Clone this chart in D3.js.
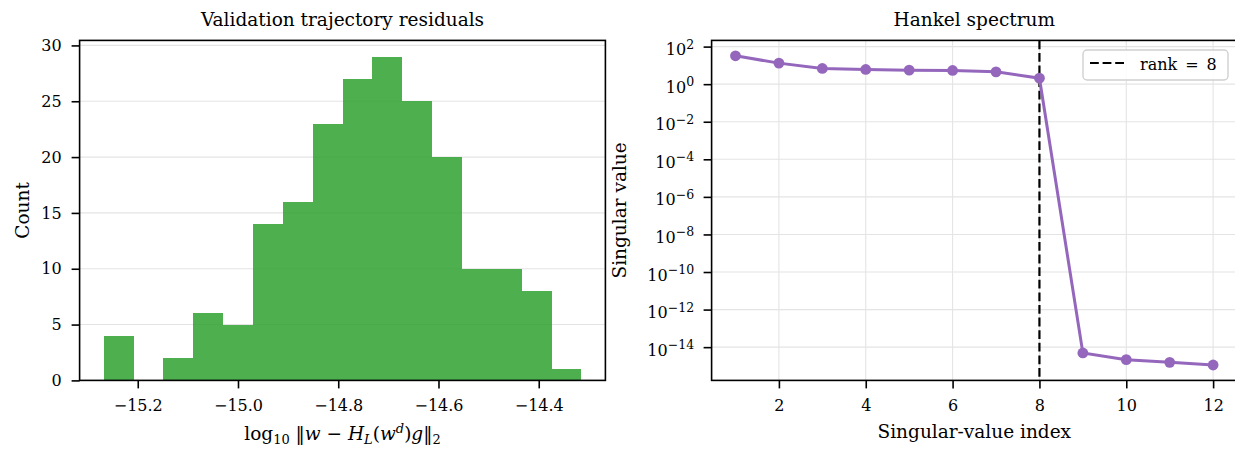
<!DOCTYPE html>
<html>
<head>
<meta charset="utf-8">
<script src="https://cdn.jsdelivr.net/npm/d3@7"></script>
<style>
  body { margin: 0; background: #fff; }
  svg text { font-family: "DejaVu Serif", serif; fill: #000; }
</style>
</head>
<body>
<svg id="chart" width="1235" height="449"></svg>
<script>
// left panel: histogram of log10 residuals
var binEdges = [-15.268, -15.208, -15.149, -15.089, -15.030, -14.970, -14.911, -14.851,
                -14.791, -14.732, -14.672, -14.612, -14.553, -14.493, -14.434, -14.374, -14.315];
var binCounts = [4, 0, 2, 6, 5, 14, 16, 23, 27, 29, 25, 20, 10, 10, 8, 1];
var residualTicks = [-15.2, -15.0, -14.8, -14.6, -14.4];
var countTicks = [0, 5, 10, 15, 20, 25, 30];

// right panel: singular values of the Hankel matrix
var svIndex = [1, 2, 3, 4, 5, 6, 7, 8, 9, 10, 11, 12];
var svValues = [32.4, 13.2, 6.85, 6.06, 5.58, 5.36, 4.55, 2.09, 4.9e-15, 2.15e-15, 1.55e-15, 1.12e-15];
var indexTicks = [2, 4, 6, 8, 10, 12];
var decadeTicks = [2, 0, -2, -4, -6, -8, -10, -12, -14];
var rank = 8;

var svg = d3.select('#chart');
svg.append('rect').attr('width', 1235).attr('height', 449).attr('fill', '#fff');

var TICK = 8, GRID = '#e4e4e4', TICKFONT = 16, fmt = d3.format('.1f');

var styleAxis = function(g) {
  g.select('.domain').remove();
  g.selectAll('.tick line').attr('stroke', '#000').attr('stroke-width', 1.6);
  g.selectAll('.tick text').attr('font-size', TICKFONT).attr('fill', '#000');
};

var frame = function(x0, x1, y0, y1) {
  svg.append('rect')
    .attr('x', x0).attr('y', y0).attr('width', x1 - x0).attr('height', y1 - y0)
    .attr('fill', 'none').attr('stroke', '#000').attr('stroke-width', 1.6);
};

// ---------- histogram ----------
var L = {left: 79.6, right: 605.4, top: 40.4, bottom: 380.4};
var hx = d3.scaleLinear().domain([-15.316, -14.267]).range([L.left, L.right]);
var hy = d3.scaleLinear().domain([0, 30.45]).range([L.bottom, L.top]);

svg.append('g').selectAll('line').data(countTicks).enter().append('line')
  .attr('x1', L.left).attr('x2', L.right)
  .attr('y1', function(d) { return hy(d); }).attr('y2', function(d) { return hy(d); })
  .attr('stroke', GRID).attr('stroke-width', 1.1);

var bins = binCounts.map(function(c, i) { return {x0: binEdges[i], x1: binEdges[i + 1], n: c}; });
svg.append('g').attr('shape-rendering', 'crispEdges')
  .selectAll('rect').data(bins.filter(function(b) { return b.n > 0; })).enter().append('rect')
  .attr('x', function(d) { return hx(d.x0); })
  .attr('width', function(d) { return hx(d.x1) - hx(d.x0); })
  .attr('y', function(d) { return hy(d.n); })
  .attr('height', function(d) { return hy(0) - hy(d.n); })
  .attr('fill', '#2ca02c').attr('fill-opacity', 0.84);

svg.append('g').attr('transform', 'translate(0,' + L.bottom + ')')
  .call(d3.axisBottom(hx).tickValues(residualTicks).tickFormat(fmt).tickSize(TICK).tickPadding(11.5))
  .call(styleAxis);
svg.append('g').attr('transform', 'translate(' + L.left + ',0)')
  .call(d3.axisLeft(hy).tickValues(countTicks).tickSize(TICK).tickPadding(10))
  .call(styleAxis);
frame(L.left, L.right, L.top, L.bottom);

svg.append('text').attr('x', (L.left + L.right) / 2).attr('y', 26)
  .attr('text-anchor', 'middle').attr('font-size', 18.5).text('Validation trajectory residuals');
svg.append('text').attr('transform', 'translate(28.5,' + (L.top + L.bottom) / 2 + ') rotate(-90)')
  .attr('text-anchor', 'middle').attr('font-size', 18.5).text('Count');

var xl = svg.append('text').attr('x', (L.left + L.right) / 2).attr('y', 440)
  .attr('text-anchor', 'middle').attr('font-size', 18.5);
xl.append('tspan').text('log');
xl.append('tspan').attr('font-size', 13).attr('dy', 4).text('10');
xl.append('tspan').attr('dy', -4).text(' \u2016');
xl.append('tspan').attr('font-style', 'italic').text('w');
xl.append('tspan').text(' \u2212 ');
xl.append('tspan').attr('font-style', 'italic').text('H');
xl.append('tspan').attr('font-style', 'italic').attr('font-size', 13).attr('dy', 4).text('L');
xl.append('tspan').attr('dy', -4).text('(');
xl.append('tspan').attr('font-style', 'italic').text('w');
xl.append('tspan').attr('font-style', 'italic').attr('font-size', 13).attr('dy', -7).text('d');
xl.append('tspan').attr('dy', 7).text(')');
xl.append('tspan').attr('font-style', 'italic').text('g');
xl.append('tspan').text('\u2016');
xl.append('tspan').attr('font-size', 13).attr('dy', 4).text('2');

// ---------- Hankel spectrum ----------
var R = {left: 711.6, right: 1237, top: 40.4, bottom: 380.4};
var sx = d3.scaleLinear().domain([0.45, 12.55]).range([R.left, R.right]);
var sy = d3.scaleLog().domain([Math.pow(10, -15.77), Math.pow(10, 2.33)]).range([R.bottom, R.top]);
var decades = decadeTicks.map(function(e) { return Math.pow(10, e); });

var grid = svg.append('g');
grid.selectAll('line.v').data(indexTicks).enter().append('line')
  .attr('x1', function(d) { return sx(d); }).attr('x2', function(d) { return sx(d); })
  .attr('y1', R.top).attr('y2', R.bottom).attr('stroke', GRID).attr('stroke-width', 1.1);
grid.selectAll('line.h').data(decades).enter().append('line')
  .attr('x1', R.left).attr('x2', R.right)
  .attr('y1', function(d) { return sy(d); }).attr('y2', function(d) { return sy(d); })
  .attr('stroke', GRID).attr('stroke-width', 1.1);

svg.append('line')
  .attr('x1', sx(rank)).attr('x2', sx(rank)).attr('y1', R.top).attr('y2', R.bottom)
  .attr('stroke', '#000').attr('stroke-width', 2.2).attr('stroke-dasharray', '8.8,3.8');

var pts = svIndex.map(function(k, i) { return [k, svValues[i]]; });
svg.append('path').datum(pts)
  .attr('d', d3.line().x(function(d) { return sx(d[0]); }).y(function(d) { return sy(d[1]); }))
  .attr('fill', 'none').attr('stroke', '#9467bd').attr('stroke-width', 3);
svg.append('g').selectAll('circle').data(pts).enter().append('circle')
  .attr('cx', function(d) { return sx(d[0]); }).attr('cy', function(d) { return sy(d[1]); })
  .attr('r', 5.4).attr('fill', '#9467bd');

svg.append('g').attr('transform', 'translate(0,' + R.bottom + ')')
  .call(d3.axisBottom(sx).tickValues(indexTicks).tickSize(TICK).tickPadding(11.5))
  .call(styleAxis);
var ya = svg.append('g').attr('transform', 'translate(' + R.left + ',0)')
  .call(d3.axisLeft(sy).tickValues(decades).tickSize(TICK).tickPadding(9.5).tickFormat(''))
  .call(styleAxis);
ya.selectAll('.tick text').each(function(d) {
  var t = d3.select(this).text(null).attr('dy', null).attr('y', 8);
  t.append('tspan').text('10');
  t.append('tspan').attr('font-size', 12.5).attr('dy', -6.5)
    .text(d3.format('d')(Math.round(Math.log10(d))).replace('-', '\u2212'));
});
frame(R.left, R.right, R.top, R.bottom);

svg.append('text').attr('x', (R.left + R.right) / 2).attr('y', 26)
  .attr('text-anchor', 'middle').attr('font-size', 18.5).text('Hankel spectrum');
svg.append('text').attr('x', (R.left + R.right) / 2).attr('y', 438)
  .attr('text-anchor', 'middle').attr('font-size', 18.5).text('Singular-value index');
svg.append('text').attr('transform', 'translate(626,' + (R.top + R.bottom) / 2 + ') rotate(-90)')
  .attr('text-anchor', 'middle').attr('font-size', 18.5).text('Singular value');

// legend
var lg = svg.append('g');
lg.append('rect').attr('x', 1083).attr('y', 50).attr('width', 145).attr('height', 30).attr('rx', 4)
  .attr('fill', '#fff').attr('fill-opacity', 0.85).attr('stroke', '#d0d0d0').attr('stroke-width', 1.4);
lg.append('line').attr('x1', 1090).attr('x2', 1124).attr('y1', 63).attr('y2', 63)
  .attr('stroke', '#000').attr('stroke-width', 2.2).attr('stroke-dasharray', '8.8,3.8');
lg.append('text').attr('x', 1140).attr('y', 70).attr('font-size', 16).text('rank\u2002=\u2002' + rank);
</script>
</body>
</html>
